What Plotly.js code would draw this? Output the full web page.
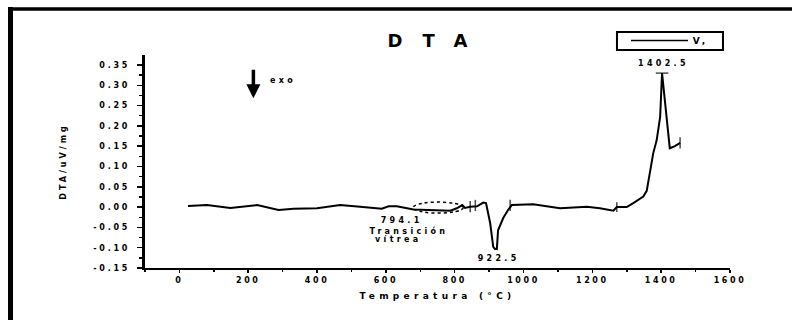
<!DOCTYPE html>
<html>
<head>
<meta charset="utf-8">
<script src="https://cdn.plot.ly/plotly-3.0.1.min.js"></script>
<style>
  html, body { margin: 0; padding: 0; background: #fff; }
  #chart { width: 792px; height: 320px; }
  #chart .xtick text { letter-spacing: 2.6px; }
  #chart .xtitle { letter-spacing: 4.3px; }
  #chart .ytitle { letter-spacing: 3px; }
  #chart .annotation-text { letter-spacing: 3.3px; }
  #chart .gtitle { letter-spacing: 20px; }
</style>
</head>
<body>
<div id="chart"></div>
<script>
// ---- data ----
const temperature = [25, 80, 148, 226, 288, 332, 400, 438, 467, 525, 588, 608, 632, 680, 729, 787, 806, 822, 830, 845, 865, 883, 891, 903, 912, 917, 922.5, 926, 941, 955, 966, 1028, 1106, 1184, 1222, 1261, 1271, 1300, 1319, 1348, 1358, 1368, 1377, 1387, 1397, 1402.5, 1416, 1425, 1440, 1455];
const dta = [0.003, 0.005, -0.002, 0.005, -0.007, -0.004, -0.003, 0.001, 0.005, 0.001, -0.004, 0.002, 0.002, -0.006, -0.007, -0.009, -0.003, 0.005, -0.002, 0.001, 0.002, 0.011, 0.010, -0.039, -0.098, -0.103, -0.103, -0.057, -0.027, -0.007, 0.005, 0.007, -0.003, 0.001, -0.003, -0.009, 0.000, 0.000, 0.010, 0.026, 0.040, 0.085, 0.133, 0.165, 0.222, 0.330, 0.214, 0.145, 0.150, 0.158];

const cursorT = [845, 860, 961, 1271, 1402.5, 1455];
const cursorV = [0.001, 0.004, 0.004, 0.000, 0.330, 0.158];

const xTickVals = [0, 200, 400, 600, 800, 1000, 1200, 1400, 1600];
const xTickText = ["0", "200", "400", "600", "800", "1000", "1200", "1400", "1600"];
const yTickVals = [-0.15, -0.10, -0.05, 0.00, 0.05, 0.10, 0.15, 0.20, 0.25, 0.30, 0.35];
const yTickText = ["- 0 . 1 5", "- 0 . 1 0", "- 0 . 0 5", "0 . 0 0", "0 . 0 5", "0 . 1 0", "0 . 1 5", "0 . 2 0", "0 . 2 5", "0 . 3 0", "0 . 3 5"];

const seriesName = "V,";
const peakT = [1402.5, 922.5];
const peakV = [0.330, -0.103];
const peakText = ["1402.5", "922.5"];
const glassText = ["794.1", "Transición", "vítrea"];

// ---- chart ----
const FONT = "DejaVu Sans, Liberation Sans, Arial, sans-serif";
const black = "#000";
const bold = (size) => ({family: FONT, size: size, color: black, weight: "bold"});

const traces = [
  {
    x: temperature, y: dta, type: "scatter", mode: "lines", name: seriesName,
    line: {color: black, width: 2}, showlegend: false
  },
  {
    x: cursorT, y: cursorV, type: "scatter", mode: "markers", showlegend: false,
    marker: {symbol: ["line-ns", "line-ns", "line-ns", "line-ns", "line-ew", "line-ns"], size: [8, 8, 8, 7, 9, 8],
             line: {color: black, width: 1.5}}
  }
];

const annotations = [
  {x: peakT[0], y: peakV[0], text: peakText[0], showarrow: false, yshift: 10, xshift: 1, font: bold(8)},
  {x: peakT[1], y: peakV[1], text: peakText[1], showarrow: false, yshift: -10, xshift: 2, font: bold(8)},
  {x: 647, y: -0.032, text: glassText[0], showarrow: false, font: bold(8)},
  {x: 668, y: -0.059, text: glassText[1], showarrow: false, font: bold(8)},
  {x: 636, y: -0.081, text: glassText[2], showarrow: false, font: bold(8)},
  // exo arrow
  {x: 215, y: 0.268, ax: 0, ay: -30, text: "", showarrow: true, arrowhead: 2, arrowsize: 0.8, arrowwidth: 3.5, arrowcolor: black},
  {x: 302, y: 0.313, text: "exo", showarrow: false, font: bold(8)},
  // legend text (manual legend box)
  {xref: "paper", yref: "paper", x: 0.9385, y: 1.068, xanchor: "left", yanchor: "middle", text: seriesName, showarrow: false, font: bold(9)}
];

const shapes = [
  // dotted ellipse around glass transition
  {type: "circle", xref: "x", yref: "y", x0: 679, x1: 825, y0: -0.0148, y1: 0.0123,
   line: {color: black, width: 1.5, dash: "dot"}},
  // outer frame (left and top)
  {type: "line", xref: "paper", yref: "paper", x0: -0.2299, x1: -0.2299, y0: -0.30, y1: 1.2254,
   line: {color: black, width: 5}},
  {type: "line", xref: "paper", yref: "paper", x0: -0.2342, x1: 1.12, y0: 1.2160, y1: 1.2160,
   line: {color: black, width: 3.5}},
  // manual legend box and sample line
  {type: "rect", xref: "paper", yref: "paper", x0: 0.8068, x1: 0.988, y0: 1.0235, y1: 1.108,
   line: {color: black, width: 2}, fillcolor: "#fff"},
  {type: "line", xref: "paper", yref: "paper", x0: 0.8308, x1: 0.9282, y0: 1.068, y1: 1.068,
   line: {color: black, width: 1.5}}
];

const layout = {
  width: 792, height: 320,
  margin: {l: 145, r: 62, t: 55, b: 52},
  paper_bgcolor: "#fff", plot_bgcolor: "#fff",
  font: bold(8),
  showlegend: false,
  title: {text: "DTA", x: 0.5, xref: "paper", xanchor: "center", y: 0.872, yref: "container", yanchor: "middle",
          font: bold(18)},
  xaxis: {
    range: [-100, 1600], showgrid: false, zeroline: false,
    showline: true, linecolor: black, linewidth: 2,
    tickmode: "array", tickvals: xTickVals, ticktext: xTickText,
    ticks: "outside", ticklen: 3, tickwidth: 1.5, tickcolor: black,
    minor: {dtick: 100, tick0: 0, ticks: "outside", ticklen: 2, tickwidth: 1.5, tickcolor: black, showgrid: false},
    tickfont: bold(8),
    title: {text: "Temperatura (°C)", standoff: 9, font: bold(9)}
  },
  yaxis: {
    range: [-0.15, 0.3746], showgrid: false, zeroline: false,
    showline: true, linecolor: black, linewidth: 3,
    tickmode: "array", tickvals: yTickVals, ticktext: yTickText,
    ticks: "outside", ticklen: 5, tickwidth: 1.5, tickcolor: black,
    ticklabelstandoff: 8,
    minor: {dtick: 0.025, tick0: 0, ticks: "outside", ticklen: 3, tickwidth: 1.5, tickcolor: black, showgrid: false},
    tickfont: bold(8),
    title: {text: "DTA/uV/mg", standoff: 26, font: bold(8)}
  },
  annotations: annotations,
  shapes: shapes
};

Plotly.newPlot("chart", traces, layout, {staticPlot: true, displayModeBar: false});
</script>
</body>
</html>
